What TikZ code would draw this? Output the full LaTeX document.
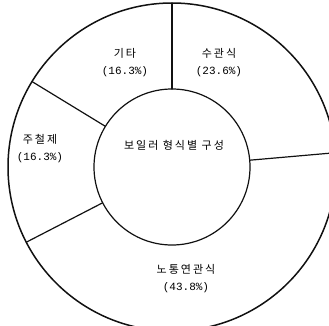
\documentclass[tikz,border=0pt]{standalone}
\usepackage{fontspec}
\usepackage{tikz}
\usetikzlibrary{calc}
\newfontfamily\krfont{Noto Sans CJK KR}[LetterSpace=18]
\newfontfamily\numfont{Liberation Mono}
\definecolor{Ink}{HTML}{111111}
\newcommand{\ringlabel}[4]{%
  \node[font=\fontsize{11}{17}\selectfont,align=center,inner sep=0pt]
    (#1) at (#2) {\krfont #3\\\numfont(#4)};
}

\begin{document}
\begin{tikzpicture}[x=1pt,y=1pt,line cap=round,line join=round]
        \clip (0,0) rectangle (329,325);
        \fill[white] (0,0) rectangle (329,325);
        \coordinate (mid) at (172,158);
        % outer and inner rings
        \draw[Ink,line width=1.5pt] (mid) circle[radius=164];
        \draw[Ink,line width=1.2pt] (mid) circle[radius=78];
        % segment borders
        \foreach \a in {90,5,207.3,148.6}{
          \draw[Ink,line width=1.2pt]
            ($(mid)+(\a:78)$) -- ($(mid)+(\a:164)$);
        }
        \node[font=\krfont\fontsize{11}{12}\selectfont,inner sep=0pt]
          (title) at (174,180) {보일러 형식별 구성};
        \ringlabel{etc}{125,262}{기타}{16.3\%}
        \ringlabel{water}{219,262}{수관식}{23.6\%}
        \ringlabel{cast}{40,176}{주철제}{16.3\%}
        \ringlabel{flue}{186,46}{노통연관식}{43.8\%}
      \end{tikzpicture}
\end{document}
